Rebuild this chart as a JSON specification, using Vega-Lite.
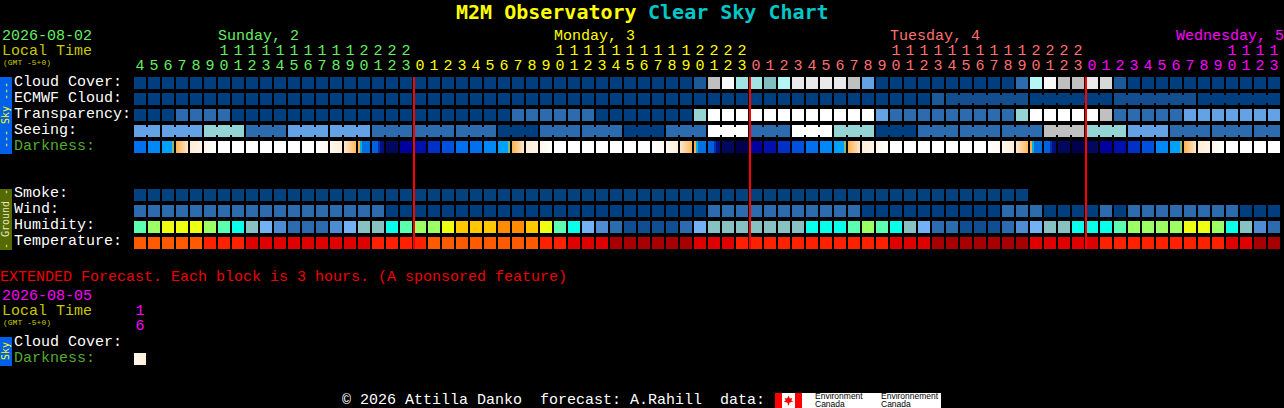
{"$schema":"https://vega.github.io/schema/vega-lite/v6.json","width":1284,"height":408,"autosize":{"type":"none"},"padding":0,"background":"#000000","view":{"stroke":null},
"config":{"axis":{"grid":false}},
"datasets":{
"cells":[
{"col":0,"row":0,"level":"L0"},{"col":1,"row":0,"level":"L0"},{"col":2,"row":0,"level":"L0"},{"col":3,"row":0,"level":"L0"},{"col":4,"row":0,"level":"L0"},{"col":5,"row":0,"level":"L0"},{"col":6,"row":0,"level":"L0"},{"col":7,"row":0,"level":"L0"},{"col":8,"row":0,"level":"L0"},{"col":9,"row":0,"level":"L0"},{"col":10,"row":0,"level":"L0"},{"col":11,"row":0,"level":"L0"},{"col":12,"row":0,"level":"L0"},{"col":13,"row":0,"level":"L0"},{"col":14,"row":0,"level":"L0"},{"col":15,"row":0,"level":"L0"},{"col":16,"row":0,"level":"L0"},{"col":17,"row":0,"level":"L0"},{"col":18,"row":0,"level":"L0"},{"col":19,"row":0,"level":"L0"},{"col":20,"row":0,"level":"L0"},{"col":21,"row":0,"level":"L0"},{"col":22,"row":0,"level":"L0"},{"col":23,"row":0,"level":"L0"},{"col":24,"row":0,"level":"L0"},{"col":25,"row":0,"level":"L0"},{"col":26,"row":0,"level":"L0"},{"col":27,"row":0,"level":"L0"},{"col":28,"row":0,"level":"L0"},{"col":29,"row":0,"level":"L0"},{"col":30,"row":0,"level":"L0"},{"col":31,"row":0,"level":"L0"},{"col":32,"row":0,"level":"L0"},{"col":33,"row":0,"level":"L0"},{"col":34,"row":0,"level":"L0"},{"col":35,"row":0,"level":"L0"},{"col":36,"row":0,"level":"L0"},{"col":37,"row":0,"level":"L0"},{"col":38,"row":0,"level":"L0"},{"col":39,"row":0,"level":"L0"},{"col":40,"row":0,"level":"N"},{"col":41,"row":0,"level":"G"},{"col":42,"row":0,"level":"F"},{"col":43,"row":0,"level":"T1"},{"col":44,"row":0,"level":"T1"},{"col":45,"row":0,"level":"T2"},{"col":46,"row":0,"level":"T3"},{"col":47,"row":0,"level":"E"},{"col":48,"row":0,"level":"E"},{"col":49,"row":0,"level":"E"},{"col":50,"row":0,"level":"E"},{"col":51,"row":0,"level":"G"},{"col":52,"row":0,"level":"L2"},{"col":53,"row":0,"level":"L0"},{"col":54,"row":0,"level":"L0"},{"col":55,"row":0,"level":"L0"},{"col":56,"row":0,"level":"L0"},{"col":57,"row":0,"level":"L0"},{"col":58,"row":0,"level":"L0"},{"col":59,"row":0,"level":"L0"},{"col":60,"row":0,"level":"L0"},{"col":61,"row":0,"level":"L0"},{"col":62,"row":0,"level":"L0"},{"col":63,"row":0,"level":"L1"},{"col":64,"row":0,"level":"T3"},{"col":65,"row":0,"level":"F"},{"col":66,"row":0,"level":"G"},{"col":67,"row":0,"level":"G"},{"col":68,"row":0,"level":"E"},{"col":69,"row":0,"level":"H"},{"col":70,"row":0,"level":"N"},{"col":71,"row":0,"level":"L0"},{"col":72,"row":0,"level":"L0"},{"col":73,"row":0,"level":"L0"},{"col":74,"row":0,"level":"L0"},{"col":75,"row":0,"level":"L0"},{"col":76,"row":0,"level":"L0"},{"col":77,"row":0,"level":"L0"},{"col":78,"row":0,"level":"L0"},{"col":79,"row":0,"level":"L0"},{"col":80,"row":0,"level":"L0"},{"col":81,"row":0,"level":"L0"},
{"col":0,"row":1,"level":"L0"},{"col":1,"row":1,"level":"L0"},{"col":2,"row":1,"level":"L0"},{"col":3,"row":1,"level":"L0"},{"col":4,"row":1,"level":"L0"},{"col":5,"row":1,"level":"L0"},{"col":6,"row":1,"level":"L0"},{"col":7,"row":1,"level":"L0"},{"col":8,"row":1,"level":"L0"},{"col":9,"row":1,"level":"L0"},{"col":10,"row":1,"level":"L0"},{"col":11,"row":1,"level":"L0"},{"col":12,"row":1,"level":"L0"},{"col":13,"row":1,"level":"L0"},{"col":14,"row":1,"level":"L0"},{"col":15,"row":1,"level":"L0"},{"col":16,"row":1,"level":"L0"},{"col":17,"row":1,"level":"L0"},{"col":18,"row":1,"level":"L0"},{"col":19,"row":1,"level":"L0"},{"col":20,"row":1,"level":"L0"},{"col":21,"row":1,"level":"L0"},{"col":22,"row":1,"level":"L0"},{"col":23,"row":1,"level":"L0"},{"col":24,"row":1,"level":"L0"},{"col":25,"row":1,"level":"L0"},{"col":26,"row":1,"level":"L0"},{"col":27,"row":1,"level":"L0"},{"col":28,"row":1,"level":"L0"},{"col":29,"row":1,"level":"L0"},{"col":30,"row":1,"level":"L0"},{"col":31,"row":1,"level":"L0"},{"col":32,"row":1,"level":"L0"},{"col":33,"row":1,"level":"L0"},{"col":34,"row":1,"level":"L0"},{"col":35,"row":1,"level":"L0"},{"col":36,"row":1,"level":"L0"},{"col":37,"row":1,"level":"L0"},{"col":38,"row":1,"level":"L0"},{"col":39,"row":1,"level":"L0"},{"col":40,"row":1,"level":"L0"},{"col":41,"row":1,"level":"L0"},{"col":42,"row":1,"level":"L0"},{"col":43,"row":1,"level":"L0"},{"col":44,"row":1,"level":"L0"},{"col":45,"row":1,"level":"L0"},{"col":46,"row":1,"level":"L0"},{"col":47,"row":1,"level":"L0"},{"col":48,"row":1,"level":"L0"},{"col":49,"row":1,"level":"L0"},{"col":50,"row":1,"level":"L0"},{"col":51,"row":1,"level":"L0"},{"col":52,"row":1,"level":"L0"},{"col":53,"row":1,"level":"L0"},{"col":54,"row":1,"level":"L0"},{"col":55,"row":1,"level":"L0"},{"col":56,"row":1,"level":"L0"},{"col":57,"row":1,"level":"N"},{"col":58,"row":1,"level":"M"},{"col":59,"row":1,"level":"M"},{"col":60,"row":1,"level":"M"},{"col":61,"row":1,"level":"M"},{"col":62,"row":1,"level":"M"},{"col":63,"row":1,"level":"M"},{"col":64,"row":1,"level":"L0"},{"col":65,"row":1,"level":"L0"},{"col":66,"row":1,"level":"L0"},{"col":67,"row":1,"level":"L0"},{"col":68,"row":1,"level":"L0"},{"col":69,"row":1,"level":"L0"},{"col":70,"row":1,"level":"M"},{"col":71,"row":1,"level":"M"},{"col":72,"row":1,"level":"M"},{"col":73,"row":1,"level":"M"},{"col":74,"row":1,"level":"M"},{"col":75,"row":1,"level":"M"},{"col":76,"row":1,"level":"L0"},{"col":77,"row":1,"level":"L0"},{"col":78,"row":1,"level":"L0"},{"col":79,"row":1,"level":"L0"},{"col":80,"row":1,"level":"L0"},{"col":81,"row":1,"level":"L0"},
{"col":0,"row":2,"level":"L0"},{"col":1,"row":2,"level":"L0"},{"col":2,"row":2,"level":"L0"},{"col":3,"row":2,"level":"L1"},{"col":4,"row":2,"level":"L1"},{"col":5,"row":2,"level":"L1"},{"col":6,"row":2,"level":"L1"},{"col":7,"row":2,"level":"L0"},{"col":8,"row":2,"level":"L0"},{"col":9,"row":2,"level":"L0"},{"col":10,"row":2,"level":"L0"},{"col":11,"row":2,"level":"L0"},{"col":12,"row":2,"level":"L0"},{"col":13,"row":2,"level":"L0"},{"col":14,"row":2,"level":"L0"},{"col":15,"row":2,"level":"L0"},{"col":16,"row":2,"level":"L0"},{"col":17,"row":2,"level":"L0"},{"col":18,"row":2,"level":"L0"},{"col":19,"row":2,"level":"L0"},{"col":20,"row":2,"level":"L0"},{"col":21,"row":2,"level":"L0"},{"col":22,"row":2,"level":"L0"},{"col":23,"row":2,"level":"L0"},{"col":24,"row":2,"level":"L0"},{"col":25,"row":2,"level":"L0"},{"col":26,"row":2,"level":"L0"},{"col":27,"row":2,"level":"L1"},{"col":28,"row":2,"level":"L1"},{"col":29,"row":2,"level":"L1"},{"col":30,"row":2,"level":"L1"},{"col":31,"row":2,"level":"L1"},{"col":32,"row":2,"level":"L1"},{"col":33,"row":2,"level":"L0"},{"col":34,"row":2,"level":"L0"},{"col":35,"row":2,"level":"L0"},{"col":36,"row":2,"level":"L0"},{"col":37,"row":2,"level":"L0"},{"col":38,"row":2,"level":"L0"},{"col":39,"row":2,"level":"L0"},{"col":40,"row":2,"level":"L3"},{"col":41,"row":2,"level":"W"},{"col":42,"row":2,"level":"W"},{"col":43,"row":2,"level":"W"},{"col":44,"row":2,"level":"W"},{"col":45,"row":2,"level":"W"},{"col":46,"row":2,"level":"W"},{"col":47,"row":2,"level":"W"},{"col":48,"row":2,"level":"W"},{"col":49,"row":2,"level":"W"},{"col":50,"row":2,"level":"W"},{"col":51,"row":2,"level":"W"},{"col":52,"row":2,"level":"W"},{"col":53,"row":2,"level":"L2"},{"col":54,"row":2,"level":"L1"},{"col":55,"row":2,"level":"L1"},{"col":56,"row":2,"level":"L1"},{"col":57,"row":2,"level":"L1"},{"col":58,"row":2,"level":"L1"},{"col":59,"row":2,"level":"L1"},{"col":60,"row":2,"level":"L1"},{"col":61,"row":2,"level":"L1"},{"col":62,"row":2,"level":"L1"},{"col":63,"row":2,"level":"L3"},{"col":64,"row":2,"level":"W"},{"col":65,"row":2,"level":"W"},{"col":66,"row":2,"level":"W"},{"col":67,"row":2,"level":"W"},{"col":68,"row":2,"level":"W"},{"col":69,"row":2,"level":"G"},{"col":70,"row":2,"level":"L1"},{"col":71,"row":2,"level":"L1"},{"col":72,"row":2,"level":"L1"},{"col":73,"row":2,"level":"L1"},{"col":74,"row":2,"level":"L1"},{"col":75,"row":2,"level":"L2"},{"col":76,"row":2,"level":"L2"},{"col":77,"row":2,"level":"L2"},{"col":78,"row":2,"level":"L2"},{"col":79,"row":2,"level":"L2"},{"col":80,"row":2,"level":"L2"},{"col":81,"row":2,"level":"L2"},
{"col":0,"row":3,"level":"L2"},{"col":1,"row":3,"level":"L2"},{"col":2,"row":3,"level":"L2"},{"col":3,"row":3,"level":"L2"},{"col":4,"row":3,"level":"L2"},{"col":5,"row":3,"level":"L3"},{"col":6,"row":3,"level":"L3"},{"col":7,"row":3,"level":"L3"},{"col":8,"row":3,"level":"L1"},{"col":9,"row":3,"level":"L1"},{"col":10,"row":3,"level":"L1"},{"col":11,"row":3,"level":"L2"},{"col":12,"row":3,"level":"L2"},{"col":13,"row":3,"level":"L2"},{"col":14,"row":3,"level":"L2"},{"col":15,"row":3,"level":"L2"},{"col":16,"row":3,"level":"L2"},{"col":17,"row":3,"level":"L1"},{"col":18,"row":3,"level":"L1"},{"col":19,"row":3,"level":"L1"},{"col":20,"row":3,"level":"L1"},{"col":21,"row":3,"level":"L1"},{"col":22,"row":3,"level":"L1"},{"col":23,"row":3,"level":"L1"},{"col":24,"row":3,"level":"L1"},{"col":25,"row":3,"level":"L1"},{"col":26,"row":3,"level":"L0"},{"col":27,"row":3,"level":"L0"},{"col":28,"row":3,"level":"L0"},{"col":29,"row":3,"level":"L1"},{"col":30,"row":3,"level":"L1"},{"col":31,"row":3,"level":"L1"},{"col":32,"row":3,"level":"L1"},{"col":33,"row":3,"level":"L1"},{"col":34,"row":3,"level":"L1"},{"col":35,"row":3,"level":"L0"},{"col":36,"row":3,"level":"L0"},{"col":37,"row":3,"level":"L0"},{"col":38,"row":3,"level":"L1"},{"col":39,"row":3,"level":"L1"},{"col":40,"row":3,"level":"L1"},{"col":41,"row":3,"level":"W"},{"col":42,"row":3,"level":"W"},{"col":43,"row":3,"level":"W"},{"col":44,"row":3,"level":"L1"},{"col":45,"row":3,"level":"L1"},{"col":46,"row":3,"level":"L1"},{"col":47,"row":3,"level":"W"},{"col":48,"row":3,"level":"W"},{"col":49,"row":3,"level":"W"},{"col":50,"row":3,"level":"L3"},{"col":51,"row":3,"level":"L3"},{"col":52,"row":3,"level":"L3"},{"col":53,"row":3,"level":"L0"},{"col":54,"row":3,"level":"L0"},{"col":55,"row":3,"level":"L0"},{"col":56,"row":3,"level":"L1"},{"col":57,"row":3,"level":"L1"},{"col":58,"row":3,"level":"L1"},{"col":59,"row":3,"level":"L1"},{"col":60,"row":3,"level":"L1"},{"col":61,"row":3,"level":"L1"},{"col":62,"row":3,"level":"L1"},{"col":63,"row":3,"level":"L1"},{"col":64,"row":3,"level":"L1"},{"col":65,"row":3,"level":"G"},{"col":66,"row":3,"level":"G"},{"col":67,"row":3,"level":"G"},{"col":68,"row":3,"level":"L3"},{"col":69,"row":3,"level":"L3"},{"col":70,"row":3,"level":"L3"},{"col":71,"row":3,"level":"L2"},{"col":72,"row":3,"level":"L2"},{"col":73,"row":3,"level":"L2"},{"col":74,"row":3,"level":"L1"},{"col":75,"row":3,"level":"L1"},{"col":76,"row":3,"level":"L1"},{"col":77,"row":3,"level":"L1"},{"col":78,"row":3,"level":"L1"},{"col":79,"row":3,"level":"L1"},{"col":80,"row":3,"level":"L1"},{"col":81,"row":3,"level":"L1"},
{"col":0,"row":4,"level":"b7"},{"col":1,"row":4,"level":"b8"},{"col":2,"row":4,"level":"sk"},{"col":3,"row":4,"level":"g1"},{"col":4,"row":4,"level":"g2"},{"col":5,"row":4,"level":"g3"},{"col":6,"row":4,"level":"W"},{"col":7,"row":4,"level":"W"},{"col":8,"row":4,"level":"W"},{"col":9,"row":4,"level":"W"},{"col":10,"row":4,"level":"W"},{"col":11,"row":4,"level":"W"},{"col":12,"row":4,"level":"W"},{"col":13,"row":4,"level":"e1"},{"col":14,"row":4,"level":"e2"},{"col":15,"row":4,"level":"e3"},{"col":16,"row":4,"level":"s1"},{"col":17,"row":4,"level":"s2"},{"col":18,"row":4,"level":"b2"},{"col":19,"row":4,"level":"b3"},{"col":20,"row":4,"level":"b4"},{"col":21,"row":4,"level":"b5"},{"col":22,"row":4,"level":"b6"},{"col":23,"row":4,"level":"b7"},{"col":24,"row":4,"level":"b7"},{"col":25,"row":4,"level":"b8"},{"col":26,"row":4,"level":"sk"},{"col":27,"row":4,"level":"g1"},{"col":28,"row":4,"level":"g2"},{"col":29,"row":4,"level":"g3"},{"col":30,"row":4,"level":"W"},{"col":31,"row":4,"level":"W"},{"col":32,"row":4,"level":"W"},{"col":33,"row":4,"level":"W"},{"col":34,"row":4,"level":"W"},{"col":35,"row":4,"level":"W"},{"col":36,"row":4,"level":"W"},{"col":37,"row":4,"level":"e1"},{"col":38,"row":4,"level":"e2"},{"col":39,"row":4,"level":"e3"},{"col":40,"row":4,"level":"s1"},{"col":41,"row":4,"level":"s2"},{"col":42,"row":4,"level":"b2"},{"col":43,"row":4,"level":"b1"},{"col":44,"row":4,"level":"b3"},{"col":45,"row":4,"level":"b4"},{"col":46,"row":4,"level":"b5"},{"col":47,"row":4,"level":"b6"},{"col":48,"row":4,"level":"b7"},{"col":49,"row":4,"level":"b8"},{"col":50,"row":4,"level":"sk"},{"col":51,"row":4,"level":"g1"},{"col":52,"row":4,"level":"g2"},{"col":53,"row":4,"level":"g3"},{"col":54,"row":4,"level":"W"},{"col":55,"row":4,"level":"W"},{"col":56,"row":4,"level":"W"},{"col":57,"row":4,"level":"W"},{"col":58,"row":4,"level":"W"},{"col":59,"row":4,"level":"W"},{"col":60,"row":4,"level":"W"},{"col":61,"row":4,"level":"e1"},{"col":62,"row":4,"level":"e2"},{"col":63,"row":4,"level":"e3"},{"col":64,"row":4,"level":"s1"},{"col":65,"row":4,"level":"s2"},{"col":66,"row":4,"level":"b2"},{"col":67,"row":4,"level":"b1"},{"col":68,"row":4,"level":"b2"},{"col":69,"row":4,"level":"b3"},{"col":70,"row":4,"level":"b4"},{"col":71,"row":4,"level":"b5"},{"col":72,"row":4,"level":"b6"},{"col":73,"row":4,"level":"b8"},{"col":74,"row":4,"level":"sk"},{"col":75,"row":4,"level":"g1"},{"col":76,"row":4,"level":"g2"},{"col":77,"row":4,"level":"g3"},{"col":78,"row":4,"level":"W"},{"col":79,"row":4,"level":"W"},{"col":80,"row":4,"level":"W"},{"col":81,"row":4,"level":"W"},
{"col":0,"row":7,"level":"S"},{"col":1,"row":7,"level":"S"},{"col":2,"row":7,"level":"S"},{"col":3,"row":7,"level":"S"},{"col":4,"row":7,"level":"S"},{"col":5,"row":7,"level":"S"},{"col":6,"row":7,"level":"S"},{"col":7,"row":7,"level":"S"},{"col":8,"row":7,"level":"S"},{"col":9,"row":7,"level":"S"},{"col":10,"row":7,"level":"S"},{"col":11,"row":7,"level":"S"},{"col":12,"row":7,"level":"S"},{"col":13,"row":7,"level":"S"},{"col":14,"row":7,"level":"S"},{"col":15,"row":7,"level":"S"},{"col":16,"row":7,"level":"S"},{"col":17,"row":7,"level":"S"},{"col":18,"row":7,"level":"S"},{"col":19,"row":7,"level":"S"},{"col":20,"row":7,"level":"S"},{"col":21,"row":7,"level":"S"},{"col":22,"row":7,"level":"S"},{"col":23,"row":7,"level":"S"},{"col":24,"row":7,"level":"S"},{"col":25,"row":7,"level":"S"},{"col":26,"row":7,"level":"S"},{"col":27,"row":7,"level":"S"},{"col":28,"row":7,"level":"S"},{"col":29,"row":7,"level":"S"},{"col":30,"row":7,"level":"S"},{"col":31,"row":7,"level":"S"},{"col":32,"row":7,"level":"S"},{"col":33,"row":7,"level":"S"},{"col":34,"row":7,"level":"S"},{"col":35,"row":7,"level":"S"},{"col":36,"row":7,"level":"S"},{"col":37,"row":7,"level":"S"},{"col":38,"row":7,"level":"S"},{"col":39,"row":7,"level":"S"},{"col":40,"row":7,"level":"S"},{"col":41,"row":7,"level":"S"},{"col":42,"row":7,"level":"S"},{"col":43,"row":7,"level":"S"},{"col":44,"row":7,"level":"S"},{"col":45,"row":7,"level":"S"},{"col":46,"row":7,"level":"S"},{"col":47,"row":7,"level":"S"},{"col":48,"row":7,"level":"S"},{"col":49,"row":7,"level":"S"},{"col":50,"row":7,"level":"S"},{"col":51,"row":7,"level":"S"},{"col":52,"row":7,"level":"S"},{"col":53,"row":7,"level":"S"},{"col":54,"row":7,"level":"S"},{"col":55,"row":7,"level":"S"},{"col":56,"row":7,"level":"S"},{"col":57,"row":7,"level":"S"},{"col":58,"row":7,"level":"S"},{"col":59,"row":7,"level":"S"},{"col":60,"row":7,"level":"S"},{"col":61,"row":7,"level":"S"},{"col":62,"row":7,"level":"S"},{"col":63,"row":7,"level":"S"},
{"col":0,"row":8,"level":"L1"},{"col":1,"row":8,"level":"L1"},{"col":2,"row":8,"level":"L1"},{"col":3,"row":8,"level":"L1"},{"col":4,"row":8,"level":"L1"},{"col":5,"row":8,"level":"L1"},{"col":6,"row":8,"level":"L1"},{"col":7,"row":8,"level":"L1"},{"col":8,"row":8,"level":"L1"},{"col":9,"row":8,"level":"L1"},{"col":10,"row":8,"level":"L1"},{"col":11,"row":8,"level":"L1"},{"col":12,"row":8,"level":"L1"},{"col":13,"row":8,"level":"L1"},{"col":14,"row":8,"level":"L1"},{"col":15,"row":8,"level":"L1"},{"col":16,"row":8,"level":"L1"},{"col":17,"row":8,"level":"L1"},{"col":18,"row":8,"level":"L0"},{"col":19,"row":8,"level":"L0"},{"col":20,"row":8,"level":"L0"},{"col":21,"row":8,"level":"L0"},{"col":22,"row":8,"level":"L0"},{"col":23,"row":8,"level":"L0"},{"col":24,"row":8,"level":"L0"},{"col":25,"row":8,"level":"L0"},{"col":26,"row":8,"level":"L0"},{"col":27,"row":8,"level":"L0"},{"col":28,"row":8,"level":"L0"},{"col":29,"row":8,"level":"L0"},{"col":30,"row":8,"level":"L0"},{"col":31,"row":8,"level":"L0"},{"col":32,"row":8,"level":"L0"},{"col":33,"row":8,"level":"L0"},{"col":34,"row":8,"level":"L0"},{"col":35,"row":8,"level":"L0"},{"col":36,"row":8,"level":"L0"},{"col":37,"row":8,"level":"L0"},{"col":38,"row":8,"level":"L0"},{"col":39,"row":8,"level":"L0"},{"col":40,"row":8,"level":"L0"},{"col":41,"row":8,"level":"L1"},{"col":42,"row":8,"level":"L1"},{"col":43,"row":8,"level":"L1"},{"col":44,"row":8,"level":"L1"},{"col":45,"row":8,"level":"L1"},{"col":46,"row":8,"level":"L1"},{"col":47,"row":8,"level":"L1"},{"col":48,"row":8,"level":"L1"},{"col":49,"row":8,"level":"L1"},{"col":50,"row":8,"level":"L1"},{"col":51,"row":8,"level":"L1"},{"col":52,"row":8,"level":"L0"},{"col":53,"row":8,"level":"L0"},{"col":54,"row":8,"level":"L0"},{"col":55,"row":8,"level":"L0"},{"col":56,"row":8,"level":"L0"},{"col":57,"row":8,"level":"L0"},{"col":58,"row":8,"level":"L0"},{"col":59,"row":8,"level":"L0"},{"col":60,"row":8,"level":"L0"},{"col":61,"row":8,"level":"L0"},{"col":62,"row":8,"level":"L1"},{"col":63,"row":8,"level":"L1"},{"col":64,"row":8,"level":"L1"},{"col":65,"row":8,"level":"L0"},{"col":66,"row":8,"level":"L0"},{"col":67,"row":8,"level":"L0"},{"col":68,"row":8,"level":"L0"},{"col":69,"row":8,"level":"L1"},{"col":70,"row":8,"level":"L0"},{"col":71,"row":8,"level":"L1"},{"col":72,"row":8,"level":"L1"},{"col":73,"row":8,"level":"L1"},{"col":74,"row":8,"level":"L1"},{"col":75,"row":8,"level":"L1"},{"col":76,"row":8,"level":"L1"},{"col":77,"row":8,"level":"L1"},{"col":78,"row":8,"level":"L1"},{"col":79,"row":8,"level":"L0"},{"col":80,"row":8,"level":"L0"},{"col":81,"row":8,"level":"L0"},
{"col":0,"row":9,"level":"h7"},{"col":1,"row":9,"level":"h8"},{"col":2,"row":9,"level":"h9"},{"col":3,"row":9,"level":"h9"},{"col":4,"row":9,"level":"h9"},{"col":5,"row":9,"level":"h8"},{"col":6,"row":9,"level":"h7"},{"col":7,"row":9,"level":"h6"},{"col":8,"row":9,"level":"h5"},{"col":9,"row":9,"level":"h4"},{"col":10,"row":9,"level":"h3"},{"col":11,"row":9,"level":"h2"},{"col":12,"row":9,"level":"h2"},{"col":13,"row":9,"level":"h2"},{"col":14,"row":9,"level":"h3"},{"col":15,"row":9,"level":"h4"},{"col":16,"row":9,"level":"h5"},{"col":17,"row":9,"level":"h5"},{"col":18,"row":9,"level":"h6"},{"col":19,"row":9,"level":"h7"},{"col":20,"row":9,"level":"h8"},{"col":21,"row":9,"level":"h8"},{"col":22,"row":9,"level":"h9"},{"col":23,"row":9,"level":"h10"},{"col":24,"row":9,"level":"h10"},{"col":25,"row":9,"level":"h10"},{"col":26,"row":9,"level":"h11"},{"col":27,"row":9,"level":"h11"},{"col":28,"row":9,"level":"h10"},{"col":29,"row":9,"level":"h9"},{"col":30,"row":9,"level":"h7"},{"col":31,"row":9,"level":"h6"},{"col":32,"row":9,"level":"h4"},{"col":33,"row":9,"level":"h3"},{"col":34,"row":9,"level":"h2"},{"col":35,"row":9,"level":"h1"},{"col":36,"row":9,"level":"h1"},{"col":37,"row":9,"level":"h1"},{"col":38,"row":9,"level":"h1"},{"col":39,"row":9,"level":"h2"},{"col":40,"row":9,"level":"h4"},{"col":41,"row":9,"level":"h5"},{"col":42,"row":9,"level":"h5"},{"col":43,"row":9,"level":"h5"},{"col":44,"row":9,"level":"h5"},{"col":45,"row":9,"level":"h5"},{"col":46,"row":9,"level":"h5"},{"col":47,"row":9,"level":"h5"},{"col":48,"row":9,"level":"h6"},{"col":49,"row":9,"level":"h6"},{"col":50,"row":9,"level":"h6"},{"col":51,"row":9,"level":"h7"},{"col":52,"row":9,"level":"h8"},{"col":53,"row":9,"level":"h7"},{"col":54,"row":9,"level":"h6"},{"col":55,"row":9,"level":"h5"},{"col":56,"row":9,"level":"h4"},{"col":57,"row":9,"level":"h2"},{"col":58,"row":9,"level":"h2"},{"col":59,"row":9,"level":"h1"},{"col":60,"row":9,"level":"h1"},{"col":61,"row":9,"level":"h1"},{"col":62,"row":9,"level":"h2"},{"col":63,"row":9,"level":"h3"},{"col":64,"row":9,"level":"h4"},{"col":65,"row":9,"level":"h5"},{"col":66,"row":9,"level":"h5"},{"col":67,"row":9,"level":"h6"},{"col":68,"row":9,"level":"h6"},{"col":69,"row":9,"level":"h6"},{"col":70,"row":9,"level":"h7"},{"col":71,"row":9,"level":"h8"},{"col":72,"row":9,"level":"h8"},{"col":73,"row":9,"level":"h8"},{"col":74,"row":9,"level":"h8"},{"col":75,"row":9,"level":"h9"},{"col":76,"row":9,"level":"h9"},{"col":77,"row":9,"level":"h8"},{"col":78,"row":9,"level":"h6"},{"col":79,"row":9,"level":"h5"},{"col":80,"row":9,"level":"h3"},{"col":81,"row":9,"level":"h2"},
{"col":0,"row":10,"level":"t4"},{"col":1,"row":10,"level":"t4"},{"col":2,"row":10,"level":"t4"},{"col":3,"row":10,"level":"t4"},{"col":4,"row":10,"level":"t4"},{"col":5,"row":10,"level":"t3"},{"col":6,"row":10,"level":"t3"},{"col":7,"row":10,"level":"t3"},{"col":8,"row":10,"level":"t2"},{"col":9,"row":10,"level":"t2"},{"col":10,"row":10,"level":"t2"},{"col":11,"row":10,"level":"t2"},{"col":12,"row":10,"level":"t2"},{"col":13,"row":10,"level":"t2"},{"col":14,"row":10,"level":"t2"},{"col":15,"row":10,"level":"t2"},{"col":16,"row":10,"level":"t2"},{"col":17,"row":10,"level":"t3"},{"col":18,"row":10,"level":"t3"},{"col":19,"row":10,"level":"t3"},{"col":20,"row":10,"level":"t3"},{"col":21,"row":10,"level":"t4"},{"col":22,"row":10,"level":"t4"},{"col":23,"row":10,"level":"t4"},{"col":24,"row":10,"level":"t4"},{"col":25,"row":10,"level":"t4"},{"col":26,"row":10,"level":"t4"},{"col":27,"row":10,"level":"t4"},{"col":28,"row":10,"level":"t4"},{"col":29,"row":10,"level":"t3"},{"col":30,"row":10,"level":"t3"},{"col":31,"row":10,"level":"t2"},{"col":32,"row":10,"level":"t2"},{"col":33,"row":10,"level":"t2"},{"col":34,"row":10,"level":"t1"},{"col":35,"row":10,"level":"t1"},{"col":36,"row":10,"level":"t1"},{"col":37,"row":10,"level":"t1"},{"col":38,"row":10,"level":"t1"},{"col":39,"row":10,"level":"t1"},{"col":40,"row":10,"level":"t2"},{"col":41,"row":10,"level":"t2"},{"col":42,"row":10,"level":"t2"},{"col":43,"row":10,"level":"t3"},{"col":44,"row":10,"level":"t3"},{"col":45,"row":10,"level":"t3"},{"col":46,"row":10,"level":"t3"},{"col":47,"row":10,"level":"t3"},{"col":48,"row":10,"level":"t3"},{"col":49,"row":10,"level":"t3"},{"col":50,"row":10,"level":"t3"},{"col":51,"row":10,"level":"t3"},{"col":52,"row":10,"level":"t3"},{"col":53,"row":10,"level":"t3"},{"col":54,"row":10,"level":"t2"},{"col":55,"row":10,"level":"t2"},{"col":56,"row":10,"level":"t2"},{"col":57,"row":10,"level":"t1"},{"col":58,"row":10,"level":"t1"},{"col":59,"row":10,"level":"t1"},{"col":60,"row":10,"level":"t1"},{"col":61,"row":10,"level":"t1"},{"col":62,"row":10,"level":"t1"},{"col":63,"row":10,"level":"t1"},{"col":64,"row":10,"level":"t2"},{"col":65,"row":10,"level":"t2"},{"col":66,"row":10,"level":"t2"},{"col":67,"row":10,"level":"t2"},{"col":68,"row":10,"level":"t2"},{"col":69,"row":10,"level":"t3"},{"col":70,"row":10,"level":"t3"},{"col":71,"row":10,"level":"t3"},{"col":72,"row":10,"level":"t3"},{"col":73,"row":10,"level":"t3"},{"col":74,"row":10,"level":"t3"},{"col":75,"row":10,"level":"t3"},{"col":76,"row":10,"level":"t3"},{"col":77,"row":10,"level":"t3"},{"col":78,"row":10,"level":"t2"},{"col":79,"row":10,"level":"t2"},{"col":80,"row":10,"level":"t1"},{"col":81,"row":10,"level":"t1"},
{"col":0,"row":17.25,"level":"e2"}
],
"links":[
{"col":58.5,"row":1,"level":"M"},{"col":59.5,"row":1,"level":"M"},{"col":60.5,"row":1,"level":"M"},{"col":61.5,"row":1,"level":"M"},{"col":62.5,"row":1,"level":"M"},{"col":64.5,"row":1,"level":"L0"},{"col":65.5,"row":1,"level":"L0"},{"col":66.5,"row":1,"level":"L0"},{"col":67.5,"row":1,"level":"L0"},{"col":68.5,"row":1,"level":"L0"},{"col":70.5,"row":1,"level":"M"},{"col":71.5,"row":1,"level":"M"},{"col":72.5,"row":1,"level":"M"},{"col":73.5,"row":1,"level":"M"},{"col":74.5,"row":1,"level":"M"},{"col":76.5,"row":1,"level":"L0"},{"col":77.5,"row":1,"level":"L0"},{"col":78.5,"row":1,"level":"L0"},{"col":79.5,"row":1,"level":"L0"},{"col":80.5,"row":1,"level":"L0"},
{"col":0.5,"row":3,"level":"L2"},{"col":2.5,"row":3,"level":"L2"},{"col":3.5,"row":3,"level":"L2"},{"col":5.5,"row":3,"level":"L3"},{"col":6.5,"row":3,"level":"L3"},{"col":8.5,"row":3,"level":"L1"},{"col":9.5,"row":3,"level":"L1"},{"col":11.5,"row":3,"level":"L2"},{"col":12.5,"row":3,"level":"L2"},{"col":14.5,"row":3,"level":"L2"},{"col":15.5,"row":3,"level":"L2"},{"col":17.5,"row":3,"level":"L1"},{"col":18.5,"row":3,"level":"L1"},{"col":20.5,"row":3,"level":"L1"},{"col":21.5,"row":3,"level":"L1"},{"col":23.5,"row":3,"level":"L1"},{"col":24.5,"row":3,"level":"L1"},{"col":26.5,"row":3,"level":"L0"},{"col":27.5,"row":3,"level":"L0"},{"col":29.5,"row":3,"level":"L1"},{"col":30.5,"row":3,"level":"L1"},{"col":32.5,"row":3,"level":"L1"},{"col":33.5,"row":3,"level":"L1"},{"col":35.5,"row":3,"level":"L0"},{"col":36.5,"row":3,"level":"L0"},{"col":38.5,"row":3,"level":"L1"},{"col":39.5,"row":3,"level":"L1"},{"col":41.5,"row":3,"level":"W"},{"col":42.5,"row":3,"level":"W"},{"col":44.5,"row":3,"level":"L1"},{"col":45.5,"row":3,"level":"L1"},{"col":47.5,"row":3,"level":"W"},{"col":48.5,"row":3,"level":"W"},{"col":50.5,"row":3,"level":"L3"},{"col":51.5,"row":3,"level":"L3"},{"col":53.5,"row":3,"level":"L0"},{"col":54.5,"row":3,"level":"L0"},{"col":56.5,"row":3,"level":"L1"},{"col":57.5,"row":3,"level":"L1"},{"col":59.5,"row":3,"level":"L1"},{"col":60.5,"row":3,"level":"L1"},{"col":62.5,"row":3,"level":"L1"},{"col":63.5,"row":3,"level":"L1"},{"col":65.5,"row":3,"level":"G"},{"col":66.5,"row":3,"level":"G"},{"col":68.5,"row":3,"level":"L3"},{"col":69.5,"row":3,"level":"L3"},{"col":71.5,"row":3,"level":"L2"},{"col":72.5,"row":3,"level":"L2"},{"col":74.5,"row":3,"level":"L1"},{"col":75.5,"row":3,"level":"L1"},{"col":77.5,"row":3,"level":"L1"},{"col":78.5,"row":3,"level":"L1"},{"col":80.5,"row":3,"level":"L1"}
],
"hours":[
{"col":0,"row":-0.8125,"digit":"4","day":"Sun"},{"col":1,"row":-0.8125,"digit":"5","day":"Sun"},{"col":2,"row":-0.8125,"digit":"6","day":"Sun"},{"col":3,"row":-0.8125,"digit":"7","day":"Sun"},{"col":4,"row":-0.8125,"digit":"8","day":"Sun"},{"col":5,"row":-0.8125,"digit":"9","day":"Sun"},{"col":6,"row":-0.8125,"digit":"0","day":"Sun"},{"col":7,"row":-0.8125,"digit":"1","day":"Sun"},{"col":8,"row":-0.8125,"digit":"2","day":"Sun"},{"col":9,"row":-0.8125,"digit":"3","day":"Sun"},{"col":10,"row":-0.8125,"digit":"4","day":"Sun"},{"col":11,"row":-0.8125,"digit":"5","day":"Sun"},{"col":12,"row":-0.8125,"digit":"6","day":"Sun"},{"col":13,"row":-0.8125,"digit":"7","day":"Sun"},{"col":14,"row":-0.8125,"digit":"8","day":"Sun"},{"col":15,"row":-0.8125,"digit":"9","day":"Sun"},{"col":16,"row":-0.8125,"digit":"0","day":"Sun"},{"col":17,"row":-0.8125,"digit":"1","day":"Sun"},{"col":18,"row":-0.8125,"digit":"2","day":"Sun"},{"col":19,"row":-0.8125,"digit":"3","day":"Sun"},
{"col":20,"row":-0.8125,"digit":"0","day":"Mon"},{"col":21,"row":-0.8125,"digit":"1","day":"Mon"},{"col":22,"row":-0.8125,"digit":"2","day":"Mon"},{"col":23,"row":-0.8125,"digit":"3","day":"Mon"},{"col":24,"row":-0.8125,"digit":"4","day":"Mon"},{"col":25,"row":-0.8125,"digit":"5","day":"Mon"},{"col":26,"row":-0.8125,"digit":"6","day":"Mon"},{"col":27,"row":-0.8125,"digit":"7","day":"Mon"},{"col":28,"row":-0.8125,"digit":"8","day":"Mon"},{"col":29,"row":-0.8125,"digit":"9","day":"Mon"},{"col":30,"row":-0.8125,"digit":"0","day":"Mon"},{"col":31,"row":-0.8125,"digit":"1","day":"Mon"},{"col":32,"row":-0.8125,"digit":"2","day":"Mon"},{"col":33,"row":-0.8125,"digit":"3","day":"Mon"},{"col":34,"row":-0.8125,"digit":"4","day":"Mon"},{"col":35,"row":-0.8125,"digit":"5","day":"Mon"},{"col":36,"row":-0.8125,"digit":"6","day":"Mon"},{"col":37,"row":-0.8125,"digit":"7","day":"Mon"},{"col":38,"row":-0.8125,"digit":"8","day":"Mon"},{"col":39,"row":-0.8125,"digit":"9","day":"Mon"},{"col":40,"row":-0.8125,"digit":"0","day":"Mon"},{"col":41,"row":-0.8125,"digit":"1","day":"Mon"},{"col":42,"row":-0.8125,"digit":"2","day":"Mon"},{"col":43,"row":-0.8125,"digit":"3","day":"Mon"},
{"col":44,"row":-0.8125,"digit":"0","day":"Tue"},{"col":45,"row":-0.8125,"digit":"1","day":"Tue"},{"col":46,"row":-0.8125,"digit":"2","day":"Tue"},{"col":47,"row":-0.8125,"digit":"3","day":"Tue"},{"col":48,"row":-0.8125,"digit":"4","day":"Tue"},{"col":49,"row":-0.8125,"digit":"5","day":"Tue"},{"col":50,"row":-0.8125,"digit":"6","day":"Tue"},{"col":51,"row":-0.8125,"digit":"7","day":"Tue"},{"col":52,"row":-0.8125,"digit":"8","day":"Tue"},{"col":53,"row":-0.8125,"digit":"9","day":"Tue"},{"col":54,"row":-0.8125,"digit":"0","day":"Tue"},{"col":55,"row":-0.8125,"digit":"1","day":"Tue"},{"col":56,"row":-0.8125,"digit":"2","day":"Tue"},{"col":57,"row":-0.8125,"digit":"3","day":"Tue"},{"col":58,"row":-0.8125,"digit":"4","day":"Tue"},{"col":59,"row":-0.8125,"digit":"5","day":"Tue"},{"col":60,"row":-0.8125,"digit":"6","day":"Tue"},{"col":61,"row":-0.8125,"digit":"7","day":"Tue"},{"col":62,"row":-0.8125,"digit":"8","day":"Tue"},{"col":63,"row":-0.8125,"digit":"9","day":"Tue"},{"col":64,"row":-0.8125,"digit":"0","day":"Tue"},{"col":65,"row":-0.8125,"digit":"1","day":"Tue"},{"col":66,"row":-0.8125,"digit":"2","day":"Tue"},{"col":67,"row":-0.8125,"digit":"3","day":"Tue"},
{"col":68,"row":-0.8125,"digit":"0","day":"Wed"},{"col":69,"row":-0.8125,"digit":"1","day":"Wed"},{"col":70,"row":-0.8125,"digit":"2","day":"Wed"},{"col":71,"row":-0.8125,"digit":"3","day":"Wed"},{"col":72,"row":-0.8125,"digit":"4","day":"Wed"},{"col":73,"row":-0.8125,"digit":"5","day":"Wed"},{"col":74,"row":-0.8125,"digit":"6","day":"Wed"},{"col":75,"row":-0.8125,"digit":"7","day":"Wed"},{"col":76,"row":-0.8125,"digit":"8","day":"Wed"},{"col":77,"row":-0.8125,"digit":"9","day":"Wed"},{"col":78,"row":-0.8125,"digit":"0","day":"Wed"},{"col":79,"row":-0.8125,"digit":"1","day":"Wed"},{"col":80,"row":-0.8125,"digit":"2","day":"Wed"},{"col":81,"row":-0.8125,"digit":"3","day":"Wed"},
{"col":6,"row":-1.75,"digit":"1","day":"Sun"},{"col":7,"row":-1.75,"digit":"1","day":"Sun"},{"col":8,"row":-1.75,"digit":"1","day":"Sun"},{"col":9,"row":-1.75,"digit":"1","day":"Sun"},{"col":10,"row":-1.75,"digit":"1","day":"Sun"},{"col":11,"row":-1.75,"digit":"1","day":"Sun"},{"col":12,"row":-1.75,"digit":"1","day":"Sun"},{"col":13,"row":-1.75,"digit":"1","day":"Sun"},{"col":14,"row":-1.75,"digit":"1","day":"Sun"},{"col":15,"row":-1.75,"digit":"1","day":"Sun"},{"col":16,"row":-1.75,"digit":"2","day":"Sun"},{"col":17,"row":-1.75,"digit":"2","day":"Sun"},{"col":18,"row":-1.75,"digit":"2","day":"Sun"},{"col":19,"row":-1.75,"digit":"2","day":"Sun"},
{"col":30,"row":-1.75,"digit":"1","day":"Mon"},{"col":31,"row":-1.75,"digit":"1","day":"Mon"},{"col":32,"row":-1.75,"digit":"1","day":"Mon"},{"col":33,"row":-1.75,"digit":"1","day":"Mon"},{"col":34,"row":-1.75,"digit":"1","day":"Mon"},{"col":35,"row":-1.75,"digit":"1","day":"Mon"},{"col":36,"row":-1.75,"digit":"1","day":"Mon"},{"col":37,"row":-1.75,"digit":"1","day":"Mon"},{"col":38,"row":-1.75,"digit":"1","day":"Mon"},{"col":39,"row":-1.75,"digit":"1","day":"Mon"},{"col":40,"row":-1.75,"digit":"2","day":"Mon"},{"col":41,"row":-1.75,"digit":"2","day":"Mon"},{"col":42,"row":-1.75,"digit":"2","day":"Mon"},{"col":43,"row":-1.75,"digit":"2","day":"Mon"},
{"col":54,"row":-1.75,"digit":"1","day":"Tue"},{"col":55,"row":-1.75,"digit":"1","day":"Tue"},{"col":56,"row":-1.75,"digit":"1","day":"Tue"},{"col":57,"row":-1.75,"digit":"1","day":"Tue"},{"col":58,"row":-1.75,"digit":"1","day":"Tue"},{"col":59,"row":-1.75,"digit":"1","day":"Tue"},{"col":60,"row":-1.75,"digit":"1","day":"Tue"},{"col":61,"row":-1.75,"digit":"1","day":"Tue"},{"col":62,"row":-1.75,"digit":"1","day":"Tue"},{"col":63,"row":-1.75,"digit":"1","day":"Tue"},{"col":64,"row":-1.75,"digit":"2","day":"Tue"},{"col":65,"row":-1.75,"digit":"2","day":"Tue"},{"col":66,"row":-1.75,"digit":"2","day":"Tue"},{"col":67,"row":-1.75,"digit":"2","day":"Tue"},
{"col":78,"row":-1.75,"digit":"1","day":"Wed"},{"col":79,"row":-1.75,"digit":"1","day":"Wed"},{"col":80,"row":-1.75,"digit":"1","day":"Wed"},{"col":81,"row":-1.75,"digit":"1","day":"Wed"},
{"col":0,"row":14.5,"digit":"1","day":"Wed"},{"col":0,"row":15.4375,"digit":"6","day":"Wed"}
],
"labels":[
{"col":-9.857,"row":-2.6875,"label":"2026-08-02","tone":"Sun"},{"col":5.571,"row":-2.6875,"label":"Sunday, 2","tone":"Sun"},{"col":29.571,"row":-2.6875,"label":"Monday, 3","tone":"Mon"},{"col":53.571,"row":-2.6875,"label":"Tuesday, 4","tone":"Tue"},{"col":74,"row":-2.6875,"label":"Wednesday, 5","tone":"Wed"},
{"col":-9.857,"row":-1.75,"label":"Local Time","tone":"local"},
{"col":-9,"row":0.1875,"label":"Cloud Cover:","tone":"plain"},{"col":-9,"row":1.1875,"label":"ECMWF Cloud:","tone":"plain"},{"col":-9,"row":2.1875,"label":"Transparency:","tone":"plain"},{"col":-9,"row":3.1875,"label":"Seeing:","tone":"plain"},{"col":-9,"row":4.1875,"label":"Darkness:","tone":"dark"},
{"col":-9,"row":7.125,"label":"Smoke:","tone":"plain"},{"col":-9,"row":8.125,"label":"Wind:","tone":"plain"},{"col":-9,"row":9.125,"label":"Humidity:","tone":"plain"},{"col":-9,"row":10.125,"label":"Temperature:","tone":"plain"},
{"col":-10,"row":12.375,"label":"EXTENDED Forecast. Each block is 3 hours. (A sponsored feature)","tone":"alert"},
{"col":-9.857,"row":13.5625,"label":"2026-08-05","tone":"Wed"},{"col":-9.857,"row":14.5,"label":"Local Time","tone":"local"},
{"col":-9,"row":16.4375,"label":"Cloud Cover:","tone":"plain"},{"col":-9,"row":17.4375,"label":"Darkness:","tone":"dark"},
{"col":14.429,"row":20.0625,"label":"© 2026 Attilla Danko\u00a0 forecast: A.Rahill\u00a0 data:","tone":"plain"}
],
"panels":[
{"col":-10,"colEnd":-9.1429,"row":-0.375,"rowEnd":4.4375,"part":"sky"},{"col":-10,"colEnd":-9.1429,"row":6.625,"rowEnd":10.4375,"part":"ground"},{"col":-10,"colEnd":-9.1429,"row":15.875,"rowEnd":17.6875,"part":"sky"},
{"col":47.2857,"colEnd":57.2143,"row":19.375,"rowEnd":20.3125,"part":"paper"},{"col":45.3571,"colEnd":45.8571,"row":19.375,"rowEnd":20.3125,"part":"flag"},{"col":45.8571,"colEnd":46.7857,"row":19.375,"rowEnd":20.3125,"part":"paper"},{"col":46.7857,"colEnd":47.2857,"row":19.375,"rowEnd":20.3125,"part":"flag"}
]
},
"encoding":{
"x":{"field":"col","type":"quantitative","axis":null,"scale":{"domain":[-10,81.7142857],"nice":false,"zero":false}},
"y":{"field":"row","type":"quantitative","axis":null,"scale":{"domain":[20.3125,-5.1875],"nice":false,"zero":false}}
},
"resolve":{"scale":{"color":"independent"}},
"layer":[
{"data":{"name":"panels"},"mark":{"type":"rect"},"encoding":{"x2":{"field":"colEnd"},"y2":{"field":"rowEnd"},"color":{"field":"part","type":"nominal","legend":null,"scale":{"domain":["sky","ground","paper","flag"],"range":["#0060E8","#556B00","#FFFFFF","#FF0000"]}}}},
{"data":{"name":"cells"},"transform":[{"filter":"indexof(['sk','g1','g2','g3','e1','e2','e3','s1','s2'],datum.level)<0"}],"mark":{"type":"rect","width":12,"height":12},"encoding":{"color":{"field":"level","type":"nominal","legend":null,"scale":{"domain":["L0","L1","L2","L3","W","G","N","M","S","F","E","H","T1","T2","T3","h1","h2","h3","h4","h5","h6","h7","h8","h9","h10","h11","t1","t2","t3","t4","b1","b2","b3","b4","b5","b6","b7","b8"],"range":["#003F7F","#2C6CAE","#63A3E5","#95D4D4","#FFFFFF","#C0C0C0","#1A5A98","#134F8F","#04417F","#F8F8F8","#EAEAEA","#D8D8D8","#A0E4E4","#7FBFBF","#B5F5F5","#0F4F91","#2C6CAE","#4E8DD3","#73B1F5","#87C1C1","#08FFE9","#5BFFB0","#9CFF63","#EFFF14","#FFC800","#FF8C00","#A80000","#E00000","#FF2000","#FF5A00","#00004E","#000860","#0000A0","#0010B0","#0030C8","#0050E0","#0070F0","#0088F8"]}}}},
{"data":{"name":"links"},"mark":{"type":"rect","width":3,"height":8},"encoding":{"color":{"field":"level","type":"nominal","legend":null,"scale":{"domain":["L0","L1","L2","L3","W","G","M"],"range":["#003F7F","#2C6CAE","#63A3E5","#95D4D4","#FFFFFF","#C0C0C0","#134F8F"]}}}},
{"data":{"name":"cells"},"transform":[{"filter":"datum.level=='sk'"}],"mark":{"type":"rect","width":12,"height":12,"color":{"gradient":"linear","x1":0,"x2":1,"y1":0,"y2":0,"stops":[{"offset":0,"color":"#00A0FF"},{"offset":0.83,"color":"#00A0FF"},{"offset":0.83,"color":"#70C090"},{"offset":1,"color":"#A0B050"}]}}},
{"data":{"name":"cells"},"transform":[{"filter":"datum.level=='g1'"}],"mark":{"type":"rect","width":12,"height":12,"color":{"gradient":"linear","x1":0,"x2":1,"y1":0,"y2":0,"stops":[{"offset":0,"color":"#FFB050"},{"offset":1,"color":"#FFE8C8"}]}}},
{"data":{"name":"cells"},"transform":[{"filter":"datum.level=='g2'"}],"mark":{"type":"rect","width":12,"height":12,"color":{"gradient":"linear","x1":0,"x2":1,"y1":0,"y2":0,"stops":[{"offset":0,"color":"#FFEDD5"},{"offset":1,"color":"#FFF5E8"}]}}},
{"data":{"name":"cells"},"transform":[{"filter":"datum.level=='g3'"}],"mark":{"type":"rect","width":12,"height":12,"color":{"gradient":"linear","x1":0,"x2":1,"y1":0,"y2":0,"stops":[{"offset":0,"color":"#FFF6EC"},{"offset":1,"color":"#FFFFFF"}]}}},
{"data":{"name":"cells"},"transform":[{"filter":"datum.level=='e1'"}],"mark":{"type":"rect","width":12,"height":12,"color":{"gradient":"linear","x1":0,"x2":1,"y1":0,"y2":0,"stops":[{"offset":0,"color":"#FFFFFF"},{"offset":1,"color":"#FFF8EE"}]}}},
{"data":{"name":"cells"},"transform":[{"filter":"datum.level=='e2'"}],"mark":{"type":"rect","width":12,"height":12,"color":{"gradient":"linear","x1":0,"x2":1,"y1":0,"y2":0,"stops":[{"offset":0,"color":"#FFF8EE"},{"offset":1,"color":"#FFEFD8"}]}}},
{"data":{"name":"cells"},"transform":[{"filter":"datum.level=='e3'"}],"mark":{"type":"rect","width":12,"height":12,"color":{"gradient":"linear","x1":0,"x2":1,"y1":0,"y2":0,"stops":[{"offset":0,"color":"#FFE8C8"},{"offset":1,"color":"#FFB860"}]}}},
{"data":{"name":"cells"},"transform":[{"filter":"datum.level=='s1'"}],"mark":{"type":"rect","width":12,"height":12,"color":{"gradient":"linear","x1":0,"x2":1,"y1":0,"y2":0,"stops":[{"offset":0,"color":"#FFB040"},{"offset":0.17,"color":"#FFB040"},{"offset":0.17,"color":"#00B0E0"},{"offset":0.33,"color":"#00B0E0"},{"offset":0.33,"color":"#0070E0"},{"offset":1,"color":"#0070E0"}]}}},
{"data":{"name":"cells"},"transform":[{"filter":"datum.level=='s2'"}],"mark":{"type":"rect","width":12,"height":12,"color":{"gradient":"linear","x1":0,"x2":1,"y1":0,"y2":0,"stops":[{"offset":0,"color":"#0060E0"},{"offset":0.5,"color":"#0060E0"},{"offset":0.5,"color":"#0030B0"},{"offset":0.67,"color":"#0030B0"},{"offset":0.67,"color":"#001080"},{"offset":1,"color":"#001080"}]}}},
{"data":{"values":[{"col":19.5714,"row":-0.375,"rowEnd":10.375},{"col":43.5714,"row":-0.375,"rowEnd":10.375},{"col":67.5714,"row":-0.375,"rowEnd":10.375}]},"mark":{"type":"rule","color":"#FF0000","strokeWidth":2},"encoding":{"y2":{"field":"rowEnd"}}},
{"data":{"name":"hours"},"mark":{"type":"text","align":"center","baseline":"alphabetic","font":"Liberation Mono","fontSize":15},"encoding":{"text":{"field":"digit"},"color":{"field":"day","type":"nominal","legend":null,"scale":{"domain":["Sun","Mon","Tue","Wed"],"range":["#66EE66","#FFFF00","#FF7070","#FF00FF"]}}}},
{"data":{"name":"labels"},"mark":{"type":"text","align":"left","baseline":"alphabetic","font":"Liberation Mono","fontSize":15},"encoding":{"text":{"field":"label"},"color":{"field":"tone","type":"nominal","legend":null,"scale":{"domain":["Sun","Mon","Tue","Wed","local","plain","dark","alert"],"range":["#66EE66","#FFFF00","#FF7070","#FF00FF","#C8C800","#FFFFFF","#55AA30","#EE0000"]}}}},
{"data":{"values":[{"col":22.571,"row":-4,"label":"M2M Observatory","tone":"site"},{"col":36.286,"row":-4,"label":"Clear Sky Chart","tone":"chart"}]},"mark":{"type":"text","align":"left","baseline":"alphabetic","font":"DejaVu Sans Mono","fontWeight":"bold","fontSize":20},"encoding":{"text":{"field":"label"},"color":{"field":"tone","type":"nominal","legend":null,"scale":{"domain":["site","chart"],"range":["#FFFF00","#00C8C8"]}}}},
{"data":{"values":[{"col":-9.786,"row":-1.125,"label":"(GMT -5+0)"},{"col":-9.786,"row":15.125,"label":"(GMT -5+0)"}]},"mark":{"type":"text","align":"left","baseline":"alphabetic","font":"Liberation Mono","fontSize":8,"color":"#C8C800"},"encoding":{"text":{"field":"label"}}},
{"data":{"values":[{"col":-9.5714,"row":2,"label":"--- Sky ---","tone":"sky"},{"col":-9.5714,"row":8.5,"label":"- Ground -","tone":"ground"},{"col":-9.5714,"row":16.75,"label":"Sky","tone":"sky"}]},"mark":{"type":"text","align":"center","baseline":"middle","angle":270,"font":"DejaVu Sans Mono","fontSize":10},"encoding":{"text":{"field":"label"},"color":{"field":"tone","type":"nominal","legend":null,"scale":{"domain":["sky","ground"],"range":["#FFFF00","#E8E8C0"]}}}},
{"data":{"values":[{"col":48.214,"row":19.78,"label":"Environment"},{"col":48.214,"row":20.28,"label":"Canada"},{"col":52.929,"row":19.78,"label":"Environnement"},{"col":52.929,"row":20.28,"label":"Canada"}]},"mark":{"type":"text","align":"left","baseline":"alphabetic","font":"Liberation Sans","fontSize":8.5,"color":"#000000"},"encoding":{"text":{"field":"label"}}},
{"data":{"values":[{"col":46.321,"row":19.84}]},"mark":{"type":"point","filled":true,"opacity":1,"color":"#FF0000","size":90,"shape":"M0,-1L.3,-.4L.8,-.5L.6,0L1,.2L.2,.5L.1,1H-.1L-.2,.5L-1,.2L-.6,0L-.8,-.5L-.3,-.4Z"}}
]}
